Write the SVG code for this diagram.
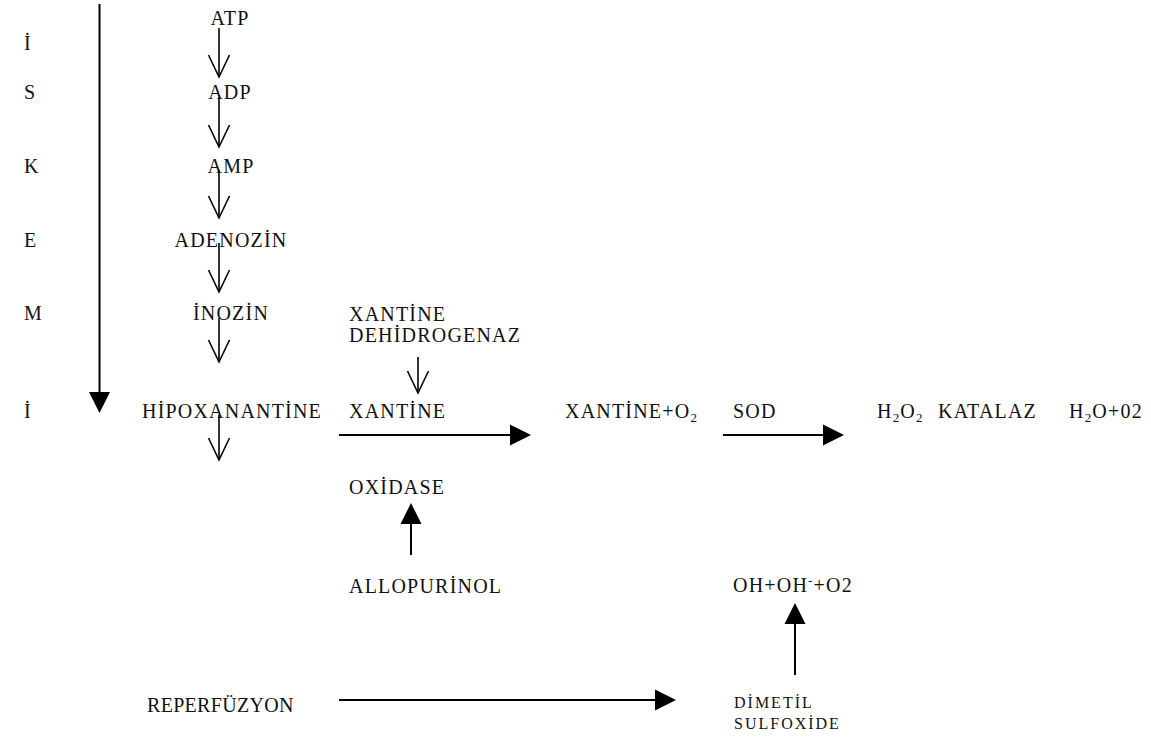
<svg xmlns="http://www.w3.org/2000/svg" width="1151" height="739" viewBox="0 0 1151 739">
<style>
text{font-family:"Liberation Serif","Times New Roman",serif;font-size:20px;fill:#111;letter-spacing:1.2px}
.sm{font-size:16px;letter-spacing:2px}
.mid{text-anchor:middle}
.ln{stroke:#000;stroke-width:2;fill:none}
.thin{stroke:#000;stroke-width:1.6;fill:none}
</style>
<defs>
<marker id="tri" markerUnits="userSpaceOnUse" viewBox="0 0 21 21" refX="0" refY="10.5" markerWidth="21" markerHeight="21" orient="auto" overflow="visible">
<path d="M0,0 L21,10.5 L0,21 Z" fill="#000"/>
</marker>
<marker id="vee" markerUnits="userSpaceOnUse" viewBox="0 0 22 21" refX="22" refY="10.5" markerWidth="22" markerHeight="21" orient="auto" overflow="visible">
<path d="M0,0 L22,10.5 L0,21" fill="none" stroke="#000" stroke-width="1.6"/>
</marker>
</defs>
<rect width="1151" height="739" fill="#fff"/>

<g id="iskemi-labels">
<text x="24" y="50">İ</text>
<text x="24" y="99">S</text>
<text x="24" y="173">K</text>
<text x="24" y="247">E</text>
<text x="24" y="320">M</text>
<text x="24" y="418">İ</text>
</g>

<g id="n-atp"><text class="mid" x="230" y="25">ATP</text></g>
<g id="n-adp"><text class="mid" x="230" y="99">ADP</text></g>
<g id="n-amp"><text class="mid" x="231" y="173">AMP</text></g>
<g id="n-adenozin"><text class="mid" x="231" y="247">ADENOZİN</text></g>
<g id="n-inozin"><text class="mid" x="231" y="320">İNOZİN</text></g>
<g id="n-hipoxanantine"><text class="mid" x="232" y="418">HİPOXANANTİNE</text></g>
<g id="n-xdh"><text x="349" y="321">XANTİNE</text><text x="349" y="342">DEHİDROGENAZ</text></g>
<g id="n-xantine"><text x="349" y="418">XANTİNE</text></g>
<g id="n-oxidase"><text x="349" y="494">OXİDASE</text></g>
<g id="n-allopurinol"><text x="349" y="593">ALLOPURİNOL</text></g>
<g id="n-xantine-o2"><text x="565" y="418">XANTİNE+O<tspan font-size="13" dy="4">2</tspan></text></g>
<g id="n-sod"><text x="733" y="418">SOD</text></g>
<g id="n-h2o2"><text x="877" y="418">H<tspan font-size="13" dy="4">2</tspan><tspan dy="-4">O</tspan><tspan font-size="13" dy="4">2</tspan></text></g>
<g id="n-katalaz"><text x="938" y="418">KATALAZ</text></g>
<g id="n-h2o"><text x="1069" y="418">H<tspan font-size="13" dy="4">2</tspan><tspan dy="-4">O+02</tspan></text></g>
<g id="n-oh"><text x="733" y="592">OH+OH<tspan font-size="13" dy="-7">-</tspan><tspan dy="7">+O2</tspan></text></g>
<g id="n-dmso"><text class="sm" x="734" y="708">DİMETİL</text><text class="sm" x="734" y="729">SULFOXİDE</text></g>
<g id="n-reperfuzyon"><text x="147" y="712" style="letter-spacing:0.3px">REPERFÜZYON</text></g>

<g id="connectors">
<line class="ln" x1="99.5" y1="4" x2="99.5" y2="392" marker-end="url(#tri)"/>
<line class="thin" x1="219" y1="28" x2="219" y2="77" marker-end="url(#vee)"/>
<line class="thin" x1="219" y1="97" x2="219" y2="147" marker-end="url(#vee)"/>
<line class="thin" x1="219" y1="170" x2="219" y2="218" marker-end="url(#vee)"/>
<line class="thin" x1="219" y1="243" x2="219" y2="292" marker-end="url(#vee)"/>
<line class="thin" x1="219" y1="318" x2="219" y2="362" marker-end="url(#vee)"/>
<line class="thin" x1="219" y1="415" x2="219" y2="460" marker-end="url(#vee)"/>
<line class="thin" x1="418" y1="357" x2="418" y2="393" marker-end="url(#vee)"/>
<line class="ln" x1="339" y1="435" x2="510" y2="435" marker-end="url(#tri)"/>
<line class="ln" x1="723" y1="435" x2="823" y2="435" marker-end="url(#tri)"/>
<line class="ln" x1="411" y1="555" x2="411" y2="524" marker-end="url(#tri)"/>
<line class="ln" x1="795" y1="675" x2="795" y2="624" marker-end="url(#tri)"/>
<line class="ln" x1="339" y1="700" x2="655" y2="700" marker-end="url(#tri)"/>
</g>
</svg>
